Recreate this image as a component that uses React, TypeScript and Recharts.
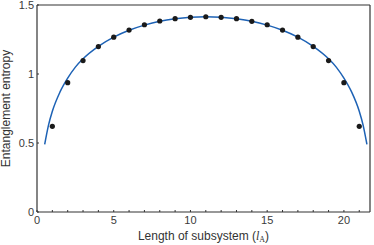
import { ComposedChart, Line, Scatter, XAxis, YAxis, ReferenceLine } from 'recharts';

document.body.style.margin = '0';

// fitted curve
const curveX = [0.5, 0.75, 1, 1.5, 2, 2.5, 3, 4, 5, 6, 7, 8, 9, 10, 11, 12, 13, 14, 15, 16, 17, 18, 19, 19.5, 20, 20.5, 21, 21.25, 21.5];
const curveY = [0.49, 0.63, 0.73, 0.87, 0.97, 1.05, 1.11, 1.2, 1.267, 1.317, 1.354, 1.382, 1.4, 1.411, 1.415, 1.411, 1.4, 1.382, 1.354, 1.317, 1.267, 1.2, 1.11, 1.05, 0.97, 0.87, 0.73, 0.63, 0.49];

// numerical points
const dotX = [1, 2, 3, 4, 5, 6, 7, 8, 9, 10, 11, 12, 13, 14, 15, 16, 17, 18, 19, 20, 21];
const dotY = [0.621, 0.937, 1.097, 1.199, 1.267, 1.318, 1.357, 1.384, 1.401, 1.411, 1.415, 1.411, 1.401, 1.382, 1.357, 1.318, 1.267, 1.199, 1.097, 0.937, 0.621];

const xTicks = [0, 1, 2, 3, 4, 5, 6, 7, 8, 9, 10, 11, 12, 13, 14, 15, 16, 17, 18, 19, 20, 21];
const yTicks = [0, 0.5, 1, 1.5];
const xMax = 21.7;
const yMax = 1.5;

const curve = curveX.map((x, i) => ({ x, y: curveY[i] }));
const dots = dotX.map((x, i) => ({ x, y: dotY[i] }));

const FONT = '"Liberation Sans", Arial, sans-serif';
const AXIS = '#333';
const tickStyle = { fontSize: 11, fill: '#3a3a3a', fontFamily: FONT };

function XTitle(props: any) {
  const vb = props.viewBox;
  return (
    <text x={vb.x + vb.width / 2} y={vb.y + 28} textAnchor="middle" fontSize={12} fill="#333" fontFamily={FONT}>
      Length of subsystem (<tspan fontStyle="italic" fontFamily="'Liberation Serif', serif">l</tspan>
      <tspan fontSize={8} dy={2} fontFamily="'Liberation Serif', serif">A</tspan>
      <tspan dy={-2}>)</tspan>
    </text>
  );
}

function YTitle(props: any) {
  const vb = props.viewBox;
  const cy = vb.y + vb.height / 2;
  return (
    <text x={6} y={cy} transform={`rotate(-90, 6, ${cy})`} textAnchor="middle" dominantBaseline="central" fontSize={12} fill="#333" fontFamily={FONT}>
      Entanglement entropy
    </text>
  );
}

const Dot = (p: any) => <circle cx={p.cx} cy={p.cy} r={2.6} fill="#1a1a1a" />;

export default function App() {
  return (
    <ComposedChart width={374} height={245} margin={{ top: 5, right: 4, bottom: 0, left: 0 }}>
      <XAxis
        type="number"
        dataKey="x"
        domain={[0, xMax]}
        allowDataOverflow
        ticks={xTicks}
        interval={0}
        tickFormatter={(v: number) => (v % 5 === 0 ? String(v) : '')}
        tickSize={-2}
        tickMargin={6}
        height={33}
        tick={tickStyle}
        tickLine={{ stroke: AXIS }}
        axisLine={{ stroke: AXIS, strokeWidth: 1.2 }}
        label={<XTitle />}
      />
      <YAxis
        type="number"
        domain={[0, yMax]}
        ticks={yTicks}
        interval={0}
        tickSize={-2}
        tickMargin={5}
        width={37}
        tick={tickStyle}
        tickLine={{ stroke: AXIS }}
        axisLine={{ stroke: AXIS, strokeWidth: 1.2 }}
        label={<YTitle />}
      />
      <ReferenceLine y={yMax} stroke={AXIS} strokeWidth={1.2} />
      <ReferenceLine x={xMax} stroke={AXIS} strokeWidth={1.2} />
      <Line data={curve} dataKey="y" type="monotone" stroke="#1d62b5" strokeWidth={1.5} dot={false} isAnimationActive={false} />
      <Scatter data={dots} dataKey="y" shape={<Dot />} isAnimationActive={false} />
    </ComposedChart>
  );
}
